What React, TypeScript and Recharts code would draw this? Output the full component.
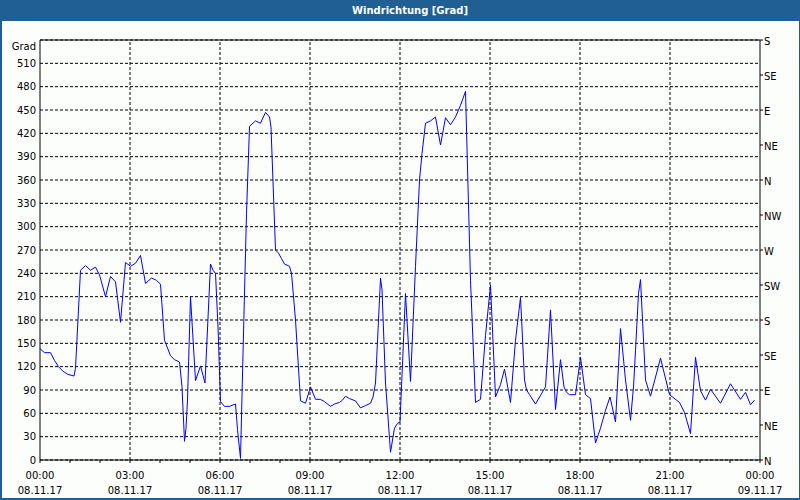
import React from 'react';
import { LineChart, Line, XAxis, YAxis, CartesianGrid, ReferenceLine } from 'recharts';

const chartTitle = 'Windrichtung [Grad]';
const leftUnit = 'Grad';

// time of each sample in minutes since 08.11.17 00:00
const minutes = [
  0, 9, 21, 29, 37, 46, 56, 68, 71, 81, 91, 101, 111, 119, 131, 141, 151, 161, 171, 181, 191, 201, 211, 223, 233, 241,
  249, 255, 261, 269, 279, 284, 289, 292, 295, 301, 311, 321, 330, 341, 346, 351, 356, 361, 369, 379, 391, 395, 401, 406, 413, 419, 424, 431, 441, 451, 459, 462, 471, 477,
  483, 489, 499, 503, 511, 521, 531, 541, 551, 561, 569, 581, 589, 599, 605, 611, 619, 631, 641, 651, 661, 666, 671, 681, 684, 691, 701, 709, 715, 720,
  731, 741, 751, 759, 764, 771, 781, 791, 801, 811, 821, 831, 841, 851, 861, 871, 881, 891, 901, 911, 921, 929, 941, 951, 961,
  969, 973, 979, 991, 1011, 1021, 1031, 1041, 1048, 1053, 1059, 1071, 1081, 1091, 1101, 1111, 1121, 1131, 1140, 1151, 1161, 1171, 1181, 1187, 1191, 1197, 1201,
  1211, 1221, 1241, 1259, 1279, 1289, 1301, 1311, 1321, 1331, 1341, 1361, 1381, 1401, 1411, 1421, 1429,
];

// wind direction in degrees
const degrees = [
  143, 138, 138, 128, 120, 114, 110, 108, 118, 244, 250, 244, 248, 238, 210, 236, 229, 177, 254, 249, 253, 263, 227, 234, 231, 226,
  154, 144, 134, 129, 126, 94, 24, 41, 77, 210, 102, 121, 99, 252, 244, 240, 171, 75, 69, 69, 72, 39, 2, 137, 317, 429, 432, 436, 433, 447, 441, 428, 270, 266,
  259, 252, 249, 240, 180, 76, 73, 94, 78, 78, 75, 69, 72, 74, 77, 82, 79, 76, 67, 70, 73, 81, 99, 234, 219, 99, 10, 41, 47, 49,
  214, 101, 249, 360, 394, 433, 436, 441, 405, 440, 431, 441, 456, 474, 231, 74, 78, 160, 225, 81, 97, 117, 74, 154, 209,
  103, 90, 84, 72, 94, 193, 65, 129, 94, 87, 84, 84, 132, 84, 79, 22, 41, 64, 81, 49, 169, 103, 51, 94, 141, 214, 232,
  103, 82, 131, 84, 74, 61, 34, 132, 89, 77, 91, 73, 98, 78, 87, 71, 77,
];

const leftTicks = [0, 30, 60, 90, 120, 150, 180, 210, 240, 270, 300, 330, 360, 390, 420, 450, 480, 510, 540];
const rightTicks = [0, 45, 90, 135, 180, 225, 270, 315, 360, 405, 450, 495, 540];
const rightLabels = ['N', 'NE', 'E', 'SE', 'S', 'SW', 'W', 'NW', 'N', 'NE', 'E', 'SE', 'S'];
const hourTicks = [0, 60, 120, 180, 240, 300, 360, 420, 480, 540, 600, 660, 720, 780, 840, 900, 960, 1020, 1080, 1140, 1200, 1260, 1320, 1380, 1440];
const majorTicks = [0, 180, 360, 540, 720, 900, 1080, 1260, 1440];
const majorTimes = ['00:00', '03:00', '06:00', '09:00', '12:00', '15:00', '18:00', '21:00', '00:00'];
const majorDates = ['08.11.17', '08.11.17', '08.11.17', '08.11.17', '08.11.17', '08.11.17', '08.11.17', '08.11.17', '09.11.17'];

const data = minutes.map((m, i) => ({ m, v: degrees[i] }));

const FONT = '"DejaVu Sans", Verdana, sans-serif';
const BLUE_FRAME = '#1f5f94';

const XTick = (props: any) => {
  const { x, y, payload } = props;
  const idx = majorTicks.indexOf(payload.value);
  if (idx < 0) return <g />;
  return (
    <text x={x} y={y} textAnchor="middle" fontFamily={FONT} fontSize={10} fill="#000">
      <tspan x={x} dy={14}>{majorTimes[idx]}</tspan>
      <tspan x={x} dy={15}>{majorDates[idx]}</tspan>
    </text>
  );
};

const LeftTick = (props: any) => {
  const { x, y, payload } = props;
  const isTop = payload.value === 540;
  return (
    <text x={x} y={y + (isTop ? 9.5 : 3.6)} textAnchor="end" fontFamily={FONT} fontSize={10} fill="#000">
      {isTop ? leftUnit : String(payload.value)}
    </text>
  );
};

const RightTick = (props: any) => {
  const { x, y, payload } = props;
  const idx = rightTicks.indexOf(payload.value);
  return (
    <text x={x} y={y + 5.3} textAnchor="start" fontFamily={FONT} fontSize={10} fill="#000">
      {rightLabels[idx]}
    </text>
  );
};

export default function App() {
  return (
    <div style={{ position: 'absolute', left: 0, top: 0, width: 800, height: 500, background: '#fcfefc', overflow: 'hidden' }}>
      <div style={{ position: 'absolute', left: 0, top: 0 }}>
        <LineChart width={800} height={500} data={data} margin={{ top: 40, right: 0, bottom: 0, left: 0 }}>
          <CartesianGrid yAxisId="left" vertical={false} stroke="#000" strokeDasharray="3 2" />
          {majorTicks.slice(1, -1).map((t) => (
            <ReferenceLine key={t} yAxisId="left" x={t} stroke="#000" strokeDasharray="3 2" />
          ))}
          <ReferenceLine yAxisId="left" y={540} stroke="#000" />
          <XAxis
            dataKey="m"
            type="number"
            domain={[0, 1440]}
            ticks={hourTicks}
            interval={0}
            height={40}
            tickSize={3}
            tickMargin={2}
            tick={<XTick />}
            axisLine={{ stroke: '#000' }}
            tickLine={{ stroke: '#000' }}
          />
          <YAxis
            yAxisId="left"
            orientation="left"
            width={40}
            domain={[0, 540]}
            ticks={leftTicks}
            interval={0}
            tickLine={false}
            tickSize={0}
            tickMargin={4}
            tick={<LeftTick />}
            axisLine={{ stroke: '#000' }}
          />
          <YAxis
            yAxisId="right"
            orientation="right"
            width={40}
            type="number"
            domain={[0, 540]}
            allowDataOverflow
            ticks={rightTicks}
            interval={0}
            tickSize={3}
            tickMargin={1}
            tick={<RightTick />}
            axisLine={{ stroke: '#000' }}
            tickLine={{ stroke: '#000' }}
          />
          <Line
            yAxisId="right"
            type="linear"
            dataKey="v"
            stroke="none"
            strokeWidth={0}
            dot={false}
            activeDot={false}
            legendType="none"
            isAnimationActive={false}
          />
          <Line
            yAxisId="left"
            type="linear"
            dataKey="v"
            stroke="#0000ff"
            strokeWidth={1}
            dot={false}
            activeDot={false}
            isAnimationActive={false}
          />
        </LineChart>
      </div>
      <div
        style={{
          position: 'absolute', left: 0, top: 0, width: 800, height: 21, background: BLUE_FRAME, color: '#fff',
          fontFamily: FONT, fontWeight: 'bold', fontSize: 10, lineHeight: '21px', textAlign: 'center',
          paddingLeft: 20, boxSizing: 'border-box',
        }}
      >
        {chartTitle}
      </div>
      <div style={{ position: 'absolute', left: 0, top: 21, width: 2, height: 479, background: BLUE_FRAME }} />
      <div style={{ position: 'absolute', right: 0, top: 21, width: 1, height: 479, background: BLUE_FRAME }} />
      <div style={{ position: 'absolute', left: 0, bottom: 0, width: 800, height: 2, background: BLUE_FRAME }} />
    </div>
  );
}
